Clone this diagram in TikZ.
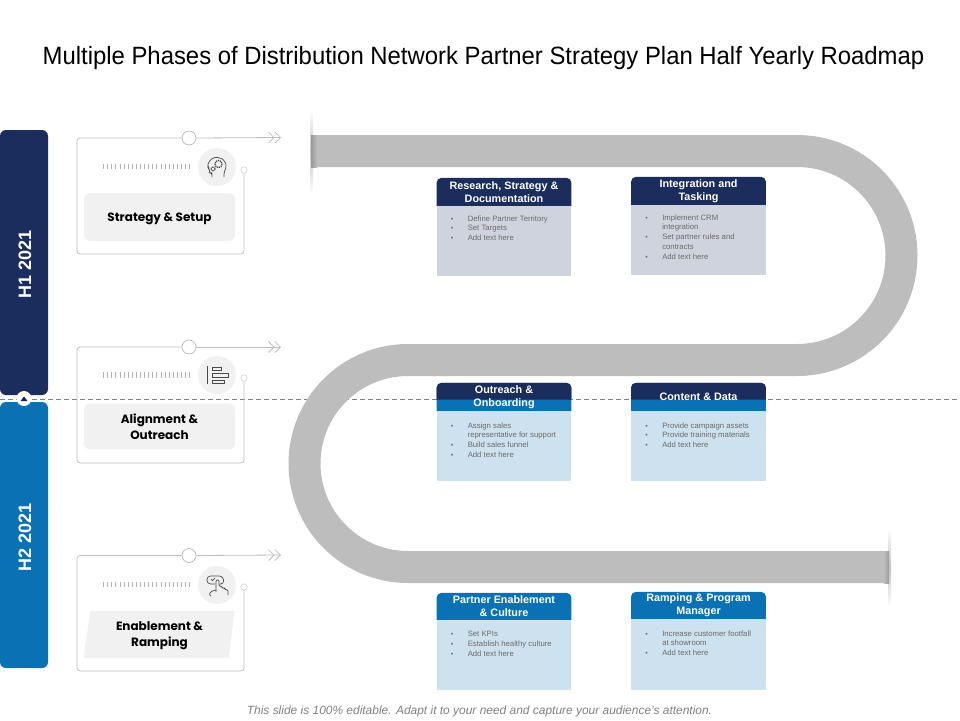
\documentclass[tikz,border=0pt]{standalone}
\usepackage{fontspec}
\setmainfont{Liberation Sans}
\newfontfamily\cardfont{Poppins}
\usetikzlibrary{positioning,backgrounds,arrows.meta,shapes.geometric}
\definecolor{navy}{HTML}{1B2D5C}
\definecolor{midblue}{HTML}{0B71B5}
\definecolor{paleslate}{HTML}{CED3DD}
\definecolor{paleblue}{HTML}{CDE1EE}
\definecolor{trackgray}{HTML}{BDBDBD}
\definecolor{softgray}{HTML}{F1F1F1}
\definecolor{linegray}{HTML}{BDBDBD}
\definecolor{icongray}{HTML}{4A4A4A}
\newcommand{\bitem}[1]{\makebox[17pt][l]{\fontsize{7}{7}\selectfont\textbullet}#1}
\newcommand{\bcont}[1]{\hspace*{17pt}#1}

\begin{document}
\begin{tikzpicture}[x=1pt, y=-1pt,
	period/.style={rectangle, rounded corners=6pt, minimum width=48pt, text=white, inner sep=0pt},
	period text/.style={rotate=90, text=white, font=\fontsize{18}{18}\selectfont\bfseries},
	big dot/.style={circle, draw=linegray, fill=white, thick, minimum size=14pt, inner sep=0pt},
	small dot/.style={circle, draw=linegray, fill=white, minimum size=6.5pt, inner sep=0pt},
	icon dot/.style={circle, fill=softgray, minimum size=38pt, inner sep=0pt},
	card line/.style={draw=linegray, line width=0.8pt, rounded corners=3pt},
	card label/.style={rectangle, fill=softgray, rounded corners=6pt, minimum width=151pt, align=center, inner sep=0pt, text depth=0pt, font=\cardfont\fontsize{12}{16}\selectfont\bfseries},
	head/.style={minimum width=134.5pt, minimum height=28pt, inner sep=0pt, align=center, text=white, font=\fontsize{10.8}{13}\selectfont\bfseries},
	slate body/.style={fill=paleslate, minimum width=134.5pt, minimum height=69.5pt, inner sep=0pt},
	blue body/.style={fill=paleblue, minimum width=134.5pt, minimum height=69.5pt, inner sep=0pt},
	body text/.style={inner sep=0pt, align=left, text=black!58, font=\fontsize{7.75}{9.8}\selectfont},
	icon line/.style={draw=icongray, line width=0.7pt}]
	\useasboundingbox (0,0) rectangle (960,720);

	\node (title) at (483.5,58) {\scalebox{0.955}[1]{\fontsize{25}{30}\selectfont Multiple Phases of Distribution Network Partner Strategy Plan Half Yearly Roadmap}};
	\node[text=black!50] (footer) at (479.5,711) {\fontsize{11.95}{14}\selectfont\itshape This slide is 100\% editable. Adapt it to your need and capture your audience's attention.};

	\coordinate (DL) at (0,399.5);
	\coordinate (DR) at (960,399.5);
	\coordinate (T1) at (311,151);
	\coordinate (T2) at (797,151);
	\coordinate (T3) at (408,360);
	\coordinate (T4) at (889,567);

	% period bars
	\node[period, fill=navy, minimum height=265pt] (H1) at (24,262.5) {};
	\node[period, fill=midblue, minimum height=266pt] (H2) at (24,535) {};
	\node[period text] (H1T) at (25,264) {H1 2021};
	\node[period text] (H2T) at (25,537) {H2 2021};
	\node[circle, fill=white, minimum size=15pt, inner sep=0pt] (notch) at (24,398.5) {};
	\fill[navy!85!black] (20.5,401) -- (24,396.5) -- (27.5,401) -- cycle;

	% cards
	\node[big dot] (D1) at (189,138) {};
	\node[big dot] (D2) at (189,347) {};
	\node[big dot] (D3) at (189,555.5) {};
	\node[small dot] (S1) at (244,170) {};
	\node[small dot] (S2) at (244,378) {};
	\node[small dot] (S3) at (244,587) {};
	\node[icon dot] (I1) at (217,167) {};
	\node[icon dot] (I2) at (217,375) {};
	\node[icon dot] (I3) at (217,585) {};
	\coordinate (A1) at (281,137.5);
	\coordinate (A2) at (281,347);
	\coordinate (A3) at (281,555);
	\node[card label, minimum height=48pt] (L1) at (159.5,217) {Strategy \& Setup};
	\node[card label, minimum height=46pt] (L2) [below=162pt of L1] {Alignment \&\\Outreach};
	\node[card label, trapezium, trapezium left angle=75, trapezium right angle=103, rounded corners=0pt, minimum height=47pt, trapezium stretches body, minimum width=151pt] (L3) at (159.5,634.5) {Enablement \&\\Ramping};
	\foreach \n/\b in {1/254, 2/463, 3/671} {
		\draw[card line] (S\n.south) |- (77,\b) |- (D\n.west);
		\draw[draw=linegray, line width=0.8pt, -{Straight Barb[length=5.5pt,width=11pt]Straight Barb[length=5.5pt,width=11pt]}] (D\n.east) -- (A\n);
	}
	\foreach \n/\y in {1/166.5, 2/375, 3/584.5} {
		\foreach \t in {0,...,21}
			\draw[draw=gray!60, line width=0.8pt] (103.5+4.1*\t,\y-2.8) -- (103.5+4.1*\t,\y+2.8);
	}

	% icons
	\begin{scope}[shift={(I1)}, icon line]
		\draw[rounded corners=2pt] (-5,10) -- (-5,6) -- (-7.5,6) -- (-7.5,2) -- (-9.5,0) -- (-8.5,-5) -- (-4,-9.5) -- (3,-9.5) -- (8,-6) -- (9.5,0) -- (7,5) -- (7,10);
		\draw[dash pattern=on 1.2pt off 0.8pt, line width=1.3pt] (1.5,-3) circle (3.6);
		\draw[dash pattern=on 1pt off 0.7pt, line width=1.1pt] (-4,2) circle (2.1);
	\end{scope}
	\begin{scope}[icon line, line width=0.8pt]
		\draw (207.5,366) -- (207.5,384);
		\draw (212,367) rectangle (221,370.5);
		\draw (212,373.5) rectangle (228,377);
		\draw (212,380) rectangle (224,383.5);
	\end{scope}
	\begin{scope}[shift={(I3)}, icon line]
		\draw[rounded corners=3.5pt] (-2,-1) -- (-10,-1) -- (-10,-9) -- (6,-9) -- (7,-1) -- (5,-1);
		\draw (-6,-6) -- (-4.5,-4.5) -- (-2,-7);
		\draw[rounded corners=1pt] (-1,7) -- (-1,-5) -- (2,-5) -- (2,1) -- (5,1.5) -- (5,3) -- (8,3) -- (8,4.5) -- (11,5) -- (11,10);
		\draw[rounded corners=1pt] (-1,5) -- (-5,6) -- (-8,9) -- (-6,11);
	\end{scope}

	% panels
	\node[head] (RH) at (504,192) {Research, Strategy \&\\Documentation};
	\node[slate body] (RB) [below=0pt of RH] {};
	\node[head] (IH) at (698.5,191) {Integration and\\Tasking};
	\node[slate body] (IB) [below=0pt of IH, minimum height=70pt] {};
	\node[head] (OH) at (504,397) {Outreach \&\\Onboarding};
	\node[blue body] (OB) [below=0pt of OH] {};
	\node[head] (CH) at (698.5,397) {Content \& Data};
	\node[blue body] (CB) [below=0pt of CH] {};
	\node[head, minimum height=27pt] (PH) at (504,606.5) {Partner Enablement\\\& Culture};
	\node[blue body] (PB) [below=0pt of PH] {};
	\node[head, minimum height=27pt] (MH) at (698.5,605.5) {Ramping \& Program\\Manager};
	\node[blue body, minimum height=71pt] (MB) [below=0pt of MH] {};

	\node[body text] (RT) [below right=9pt and 14pt of RH.south west] {\bitem{Define Partner Territory}\\\bitem{Set Targets}\\\bitem{Add text here}};
	\node[body text] (IT) [below right=9pt and 14pt of IH.south west] {\bitem{Implement CRM}\\\bcont{integration}\\\bitem{Set partner rules and}\\\bcont{contracts}\\\bitem{Add text here}};
	\node[body text] (OT) [below right=11pt and 14pt of OH.south west] {\bitem{Assign sales}\\\bcont{representative for support}\\\bitem{Build sales funnel}\\\bitem{Add text here}};
	\node[body text] (CT) [below right=11pt and 14pt of CH.south west] {\bitem{Provide campaign assets}\\\bitem{Provide training materials}\\\bitem{Add text here}};
	\node[body text] (PT) [below right=11pt and 14pt of PH.south west] {\bitem{Set KPIs}\\\bitem{Establish healthy culture}\\\bitem{Add text here}};
	\node[body text] (MT) [below right=11pt and 14pt of MH.south west] {\bitem{Increase customer footfall}\\\bcont{at showroom}\\\bitem{Add text here}};

	\begin{pgfonlayer}{background}
		\draw[draw=gray, line width=0.7pt, dashed, dash pattern=on 5pt off 3pt] (DL) -- (DR);
		\draw[trackgray, line width=32pt] (T1) -- (T2) arc[start angle=-90, end angle=90, radius=104.5] -- (T3) arc[start angle=-90, end angle=-270, radius=103.5] -- (T4);
		\shade[top color=white, bottom color=gray!45] (310,110) rectangle (313,151);
		\shade[top color=gray!45, bottom color=white] (310,151) rectangle (313,195);
		\shade[left color=gray!80, right color=trackgray] (311,135) rectangle (317,167);
		\shade[top color=white, bottom color=gray!45] (888,528) rectangle (891,567);
		\shade[top color=gray!45, bottom color=white] (888,567) rectangle (891,608);
		\shade[left color=trackgray, right color=gray!80] (884,551) rectangle (889,583);
		\foreach \n/\c in {RH/navy, IH/navy, OH/midblue, CH/midblue, PH/midblue, MH/midblue}
			\fill[\c] (\n.south west) [rounded corners=5pt] -- (\n.north west) -- (\n.north east) [sharp corners] -- (\n.south east) -- cycle;
		\foreach \n in {OH, CH}
			\fill[navy] (\n.west |- DL) [rounded corners=5pt] -- (\n.north west) -- (\n.north east) [sharp corners] -- (\n.east |- DL) -- cycle;
	\end{pgfonlayer}
\end{tikzpicture}
\end{document}
